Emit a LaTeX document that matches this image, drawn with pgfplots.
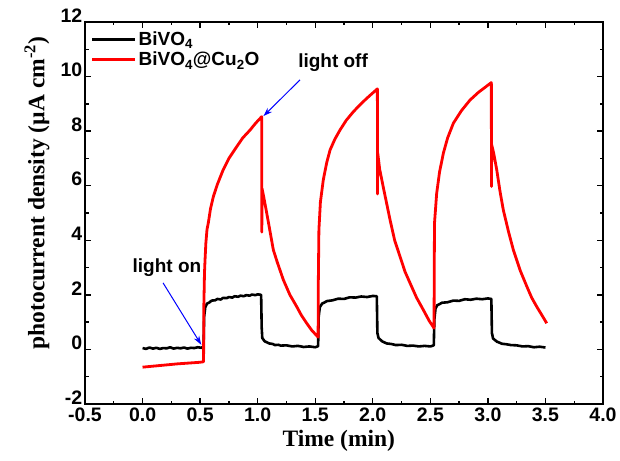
\documentclass[border=0pt]{standalone}
\usepackage{fontspec}
\setmainfont{Liberation Serif}
\newfontfamily\arial{Liberation Sans}
\usepackage{pgfplots}
\pgfplotsset{compat=1.18}
\usetikzlibrary{arrows.meta}

\begin{document}
\begin{tikzpicture}
\useasboundingbox (-85pt,-56pt) rectangle (535pt,404pt);
\begin{axis}[
  scale only axis, width=518pt, height=382pt,
  xmin=-0.5, xmax=4, ymin=-2, ymax=12,
  xtick={-0.5,0,0.5,1,1.5,2,2.5,3,3.5,4},
  ytick={-2,0,2,4,6,8,10,12},
  minor x tick num=1, minor y tick num=1,
  tick align=inside, major tick length=6pt, minor tick length=3.5pt,
  axis line style={line width=1.6pt},
  every tick/.style={line width=1.3pt, black},
  /pgf/number format/assume math mode=true,
  ticklabel style={font=\arial\bfseries\fontsize{19.5}{22}\selectfont, inner sep=0.5pt},
  xticklabel style={/pgf/number format/fixed, /pgf/number format/precision=1, /pgf/number format/fixed zerofill, yshift=-3pt},
  yticklabel style={xshift=-2pt, yshift=6.5pt},
  xlabel={Time (min)},
  ylabel={photocurrent density (\textmu A cm\textsuperscript{-2})},
  label style={font=\bfseries\fontsize{23.5}{26}\selectfont},
  xlabel style={at={(axis description cs:0.49,-0.096)}, anchor=center},
  ylabel style={at={(axis description cs:-0.0927,0.552)}, anchor=center},
  clip=false,
  legend cell align=left,
  legend style={at={(rel axis cs:0.005,0.985)}, anchor=north west, draw=none, fill=none,
    font=\arial\bfseries\fontsize{19}{21}\selectfont, row sep=1pt},
  legend image code/.code={\draw[#1] (0pt,0pt) -- (43pt,0pt);},
]
\addplot[black, line width=2.6pt, line join=round] coordinates {
(0.00,0.05)(0.03,0.02)(0.06,0.07)(0.09,0.03)(0.12,0.06)(0.15,0.02)(0.18,0.05)(0.21,0.04)(0.24,0.08)(0.27,0.03)
(0.30,0.06)(0.33,0.04)(0.36,0.07)(0.39,0.03)(0.42,0.06)(0.45,0.05)(0.48,0.08)(0.51,0.06)(0.53,0.10)
(0.535,1.2)(0.545,1.55)(0.56,1.68)(0.58,1.72)(0.60,1.79)(0.63,1.80)(0.65,1.85)(0.68,1.83)(0.70,1.89)(0.73,1.88)
(0.75,1.92)(0.78,1.90)(0.80,1.95)(0.83,1.93)(0.85,1.97)(0.88,1.95)(0.90,1.99)(0.93,1.97)(0.95,2.01)(0.98,1.99)(1.00,2.02)(1.03,2.00)
(1.035,0.8)(1.04,0.42)(1.06,0.30)(1.08,0.26)(1.10,0.22)(1.13,0.20)(1.15,0.16)(1.18,0.17)(1.20,0.14)(1.25,0.15)(1.30,0.11)
(1.35,0.13)(1.40,0.09)(1.45,0.11)(1.50,0.08)(1.525,0.12)
(1.53,1.2)(1.54,1.55)(1.56,1.68)(1.58,1.72)(1.60,1.77)(1.65,1.80)(1.70,1.86)(1.75,1.85)(1.80,1.91)(1.85,1.90)(1.90,1.94)(1.95,1.92)(2.00,1.96)(2.035,1.95)
(2.04,0.6)(2.05,0.42)(2.08,0.30)(2.10,0.26)(2.12,0.22)(2.16,0.20)(2.20,0.16)(2.25,0.17)(2.30,0.13)(2.35,0.14)(2.40,0.11)(2.45,0.13)(2.50,0.11)(2.53,0.15)
(2.535,1.1)(2.545,1.5)(2.56,1.62)(2.58,1.66)(2.60,1.71)(2.65,1.73)(2.70,1.79)(2.75,1.78)(2.80,1.84)(2.85,1.82)(2.90,1.86)(2.95,1.84)(3.00,1.87)(3.03,1.85)
(3.035,0.6)(3.045,0.40)(3.08,0.28)(3.10,0.25)(3.12,0.21)(3.16,0.19)(3.20,0.16)(3.25,0.15)(3.30,0.11)(3.35,0.12)(3.40,0.08)(3.45,0.10)(3.50,0.07)
};
\addlegendentry{BiVO\textsubscript{4}}
\addplot[red, line width=2.8pt, line join=round] coordinates {
(0.00,-0.65)(0.10,-0.61)(0.20,-0.57)(0.30,-0.53)(0.40,-0.50)(0.50,-0.47)(0.53,-0.45)
(0.532,1.5)(0.538,2.8)(0.543,3.3)(0.55,3.9)(0.56,4.4)(0.571,4.63)(0.59,5.15)(0.615,5.6)(0.65,6.05)(0.70,6.58)
(0.75,7.0)(0.818,7.43)(0.87,7.75)(0.934,8.04)(0.98,8.28)(1.035,8.53)
(1.036,4.3)(1.038,5.9)(1.05,5.65)(1.079,4.99)(1.10,4.5)(1.136,3.65)(1.17,3.2)(1.223,2.55)(1.28,2.0)(1.339,1.57)(1.38,1.25)(1.426,0.96)(1.47,0.7)(1.525,0.45)
(1.527,2.5)(1.532,4.38)(1.545,5.4)(1.57,6.21)(1.60,6.85)(1.629,7.31)(1.67,7.7)(1.715,8.04)(1.77,8.4)(1.831,8.71)(1.89,8.97)(1.947,9.2)(2.00,9.4)(2.04,9.55)
(2.041,5.7)(2.043,7.2)(2.06,6.6)(2.092,5.93)(2.15,4.75)(2.19,4.0)(2.237,3.40)(2.28,2.85)(2.324,2.43)(2.38,1.9)(2.439,1.45)(2.49,1.05)(2.532,0.78)
(2.534,2.8)(2.536,4.62)(2.555,5.72)(2.58,6.5)(2.613,7.19)(2.65,7.75)(2.70,8.29)(2.77,8.75)(2.845,9.14)(2.92,9.43)(2.98,9.62)(3.03,9.78)
(3.031,5.97)(3.033,7.5)(3.05,7.2)(3.077,6.58)(3.105,5.8)(3.134,5.11)(3.18,4.3)(3.221,3.65)(3.28,2.9)(3.338,2.31)(3.38,1.9)(3.424,1.57)(3.47,1.25)(3.511,0.96)
};
\addlegendentry{BiVO\textsubscript{4}@Cu\textsubscript{2}O}
\node[font=\arial\bfseries\fontsize{19}{21}\selectfont] at (axis cs:1.655,10.5) {light off};
\draw[blue, line width=1pt, -{Stealth[length=9pt,width=6pt]}] (axis cs:1.368,9.88) -- (axis cs:1.05,8.55);
\node[font=\arial\bfseries\fontsize{19}{21}\selectfont] at (axis cs:0.212,3.0) {light on};
\draw[blue, line width=1pt, -{Stealth[length=9pt,width=6pt]}] (axis cs:0.178,2.44) -- (axis cs:0.51,0.17);
\end{axis}
\end{tikzpicture}
\end{document}
